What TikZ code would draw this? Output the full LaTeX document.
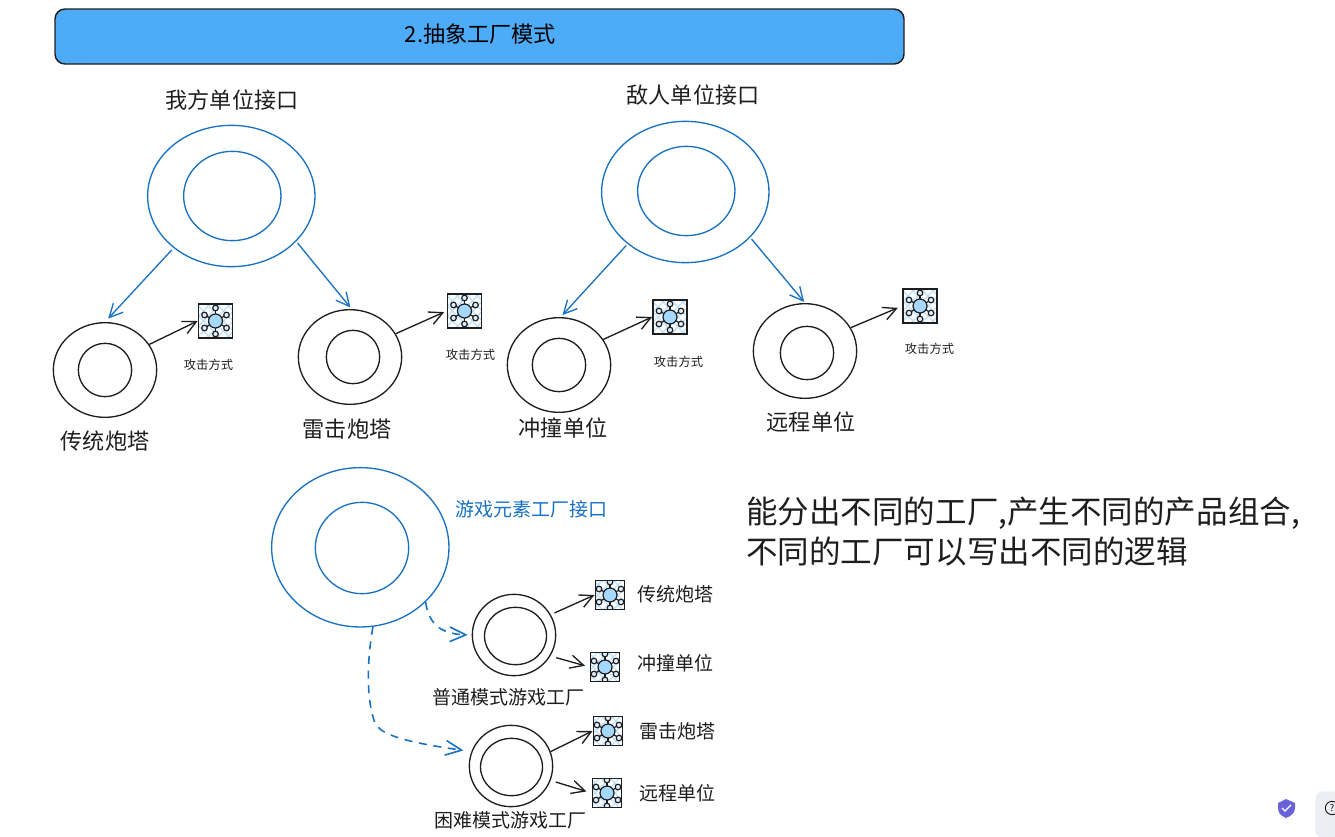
\documentclass[tikz,border=0pt]{standalone}
\usepackage{fontspec}
\setmainfont{Noto Sans CJK SC}
\usetikzlibrary{shapes.geometric,arrows.meta}
\definecolor{ink}{HTML}{1E1E1E}
\definecolor{bluel}{HTML}{1971C2}
\definecolor{titlefill}{HTML}{4DABF7}
\definecolor{iconfill}{HTML}{A5D8FF}
\definecolor{hatch}{HTML}{BFE0FA}
\definecolor{helpbg}{HTML}{ECEDF5}
\definecolor{shield}{HTML}{6A63D8}
\newcommand{\fs}[1]{\fontsize{#1}{#1}\selectfont}
\tikzset{
 x=0.75pt,y=-0.75pt,
 ring/.style={ellipse,draw=#1,line width=1pt,inner sep=0pt,fill=none},
 ringb/.style={ring=bluel},
 ringk/.style={ring=ink},
 lab/.style={inner sep=0pt,text=ink,font=\fs{16.6}},
 labm/.style={inner sep=0pt,text=ink,font=\fs{14.25}},
 labs/.style={inner sep=0pt,text=ink,font=\fs{9.2}},
 blink/.style={draw=bluel,line width=1pt,-{Straight Barb[length=10pt,width=10pt]}},
 klink/.style={draw=ink,line width=1pt,-{Straight Barb[length=10pt,width=10pt]}},
 dlink/.style={draw=bluel,line width=1.2pt,dash pattern=on 6pt off 5pt,-{Straight Barb[length=12pt,width=11pt]}},
 iconbox/.style={rectangle,draw=ink,line width=1.3pt,fill=white,inner sep=0pt,minimum size=#1*25.5pt,
  path picture={
   \begin{scope}[shift={(path picture bounding box.center)},scale=#1]
    \foreach \d in {-32,-22,...,32}{
      \draw[hatch,line width=0.9pt] (\d-25,-25)--(\d+25,25);
      \draw[hatch,line width=0.9pt] (\d-25,25)--(\d+25,-25);}
    \foreach \a/\b in {0/-13,-11/-6,-11/7,0/13,11/-6,11/7}{
      \draw[ink,line width=0.9pt] (0,0)--(\a,\b);
      \draw[ink,line width=0.9pt,fill=hatch!50!white] (\a,\b) circle (2.8);}
    \draw[ink,line width=0.9pt,fill=iconfill] (0,0) circle (7);
   \end{scope}}},
}
\begin{document}
\begin{tikzpicture}
\useasboundingbox (0,0) rectangle (1335,836);
% title
\node[rectangle,rounded corners=7.5pt,draw=ink,line width=1.1pt,fill=titlefill,minimum width=849*0.75pt,minimum height=55*0.75pt,inner sep=0pt] (title) at (479.5,36.5) {};
\node[lab,text=black] (titletext) at (480.5,34.5) {2.抽象工厂模式};
% interfaces
\node[ringb,minimum width=125.5pt,minimum height=106pt] (me) at (231.3,196) {};
\node[ringb,minimum width=73pt,minimum height=67pt] (mei) at (232.3,196) {};
\node[ringb,minimum width=125.5pt,minimum height=106pt] (foe) at (685.3,192) {};
\node[ringb,minimum width=73pt,minimum height=67pt] (foei) at (686.3,191) {};
\node[lab] (melab) at (232,100) {我方单位接口};
\node[lab] (foelab) at (693,95) {敌人单位接口};
% products
\node[ringk,minimum width=77.5pt,minimum height=71pt] (a) at (105,370) {};
\node[ringk,minimum width=40pt,minimum height=40pt] (ai) at (105,370) {};
\node[ringk,minimum width=77.5pt,minimum height=71pt] (b) at (350,357) {};
\node[ringk,minimum width=40pt,minimum height=40pt] (bi) at (353,357) {};
\node[ringk,minimum width=77.5pt,minimum height=71pt] (c) at (559,365) {};
\node[ringk,minimum width=40pt,minimum height=40pt] (ci) at (559,365) {};
\node[ringk,minimum width=77.5pt,minimum height=71pt] (d) at (805,351) {};
\node[ringk,minimum width=40pt,minimum height=40pt] (di) at (807,353) {};
\node[lab] (alab) at (105,441) {传统炮塔};
\node[lab] (blab) at (347,429) {雷击炮塔};
\node[lab] (clab) at (563,428) {冲撞单位};
\node[lab] (dlab) at (811,422) {远程单位};
% icons
\node[iconbox=1] (ia) at (215.5,321) {};
\node[iconbox=1] (ib) at (464.5,311) {};
\node[iconbox=1] (ic) at (670,317) {};
\node[iconbox=1] (id) at (920,306) {};
\node[labs] (sa) at (208.5,365) {攻击方式};
\node[labs] (sb) at (470.5,355) {攻击方式};
\node[labs] (sc) at (678.5,362) {攻击方式};
\node[labs] (sd) at (929.5,349) {攻击方式};
% factory
\node[ringb,minimum width=133pt,minimum height=119.5pt] (f) at (360.3,547.3) {};
\node[ringb,minimum width=70pt,minimum height=68.5pt] (fi) at (362,548) {};
\node[labm,text=bluel] (flab) at (531,509) {游戏元素工厂接口};
\node[ringk,minimum width=62.5pt,minimum height=61pt] (n) at (514,635) {};
\node[ringk,minimum width=46.5pt,minimum height=43pt] (ni) at (515.5,636) {};
\node[ringk,minimum width=62.5pt,minimum height=61pt] (h) at (511,766) {};
\node[ringk,minimum width=46.5pt,minimum height=43pt] (hi) at (511.5,767) {};
\node[labm] (nlab) at (508,697) {普通模式游戏工厂};
\node[labm] (hlab) at (510,820) {困难模式游戏工厂};
\node[iconbox=0.86] (p1) at (610,595) {};
\node[iconbox=0.86] (p2) at (605,667) {};
\node[iconbox=0.86] (p3) at (608,731) {};
\node[iconbox=0.86] (p4) at (607,793) {};
\node[labm] (t1) at (675,594) {传统炮塔};
\node[labm] (t2) at (675,663) {冲撞单位};
\node[labm] (t3) at (677,731) {雷击炮塔};
\node[labm] (t4) at (677,793) {远程单位};
% note
\node[inner sep=0pt,anchor=west,align=left,text=ink,font=\fontsize{23.65}{30}\selectfont] (note) at (746,531.5) {能分出不同的工厂,产生不同的产品组合,\\不同的工厂可以写出不同的逻辑};
% connectors
\draw[blink,shorten <=2pt,shorten >=3.5pt] (me.222) -- (a.90);
\draw[blink,shorten <=1.5pt,shorten >=1.5pt] (me.325) -- (b.88);
\draw[blink,shorten <=1.5pt,shorten >=2pt] (foe.222) -- (c.88);
\draw[blink,shorten <=1.5pt,shorten >=1pt] (foe.325) -- (d.90);
\draw[klink] (a.30) -- (ia.west);
\draw[klink,shorten >=2pt] (b.27) -- (ib.west);
\draw[klink] (c.30) -- (ic.west);
\draw[klink,shorten >=3.5pt] (d.27) -- (id.west);
\draw[klink,shorten <=3pt] (n.29) -- (p1.west);
\draw[klink,shorten <=4.5pt,shorten >=3.5pt] (n.-30) -- (p2.west);
\draw[klink] (h.20) -- (p3.west);
\draw[klink,shorten <=4pt,shorten >=4pt] (h.-20) -- (p4.west);
\draw[dlink,shorten >=3pt] (f.-40) .. controls +(3,20) and +(-33,-1) .. (n.west);
\draw[dlink,shorten >=6pt] (f.-81) .. controls (367,660) and (366,700) .. (375,723) .. controls (381,735) and (405,742) .. (h.160);
% corner widgets
\begin{scope}
\clip (0,0) rectangle (1335,836);
\node[rectangle,rounded corners=6pt,fill=helpbg,draw=none,minimum width=45pt,minimum height=35pt,inner sep=0pt,anchor=north west] (help) at (1315,791) {};
\node[circle,draw=ink,line width=0.7pt,minimum size=10pt,inner sep=0pt,font=\fs{7}] (q) at (1332,808) {?};
\fill[shield] (1278,803) -- (1286,799) -- (1295,803) -- (1295,808) .. controls (1295,813) and (1291,816) .. (1286,818) .. controls (1281,816) and (1278,813) .. (1278,808) -- cycle;
\draw[white,line width=1pt] (1282,808) -- (1285,811) -- (1291,805);
\end{scope}
\end{tikzpicture}
\end{document}
